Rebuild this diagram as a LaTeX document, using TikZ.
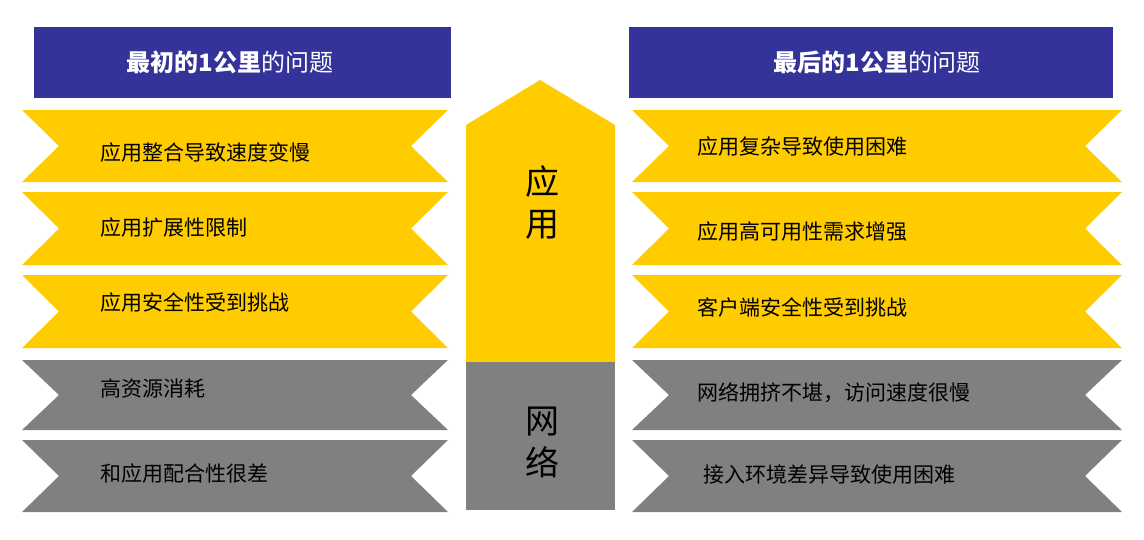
\documentclass[tikz,border=0pt]{standalone}
\usepackage{fontspec}
\setmainfont{Noto Sans CJK SC}
\definecolor{navy}{HTML}{333399}
\definecolor{ylw}{HTML}{FFCC00}
\definecolor{gry}{HTML}{808080}
\tikzset{x=1pt,y=-1pt,
 hdr/.style={fill=navy,draw=none},
 lbl/.style={anchor=west,font=\fontsize{21}{24}\selectfont,inner sep=0pt},
 htxt/.style={text=white,font=\fontsize{24}{28}\selectfont,inner sep=0pt},
 ctxt/.style={font=\fontsize{34}{38}\selectfont,inner sep=0pt,align=center}}
\newcommand{\bannr}[5]{% x1,x2,ytop,ybot,color
 \fill[#5] (#1,#3) -- (#2,#3) -- ({#2-37},{(#3+#4)/2}) -- (#2,#4) -- (#1,#4) -- ({#1+37},{(#3+#4)/2}) -- cycle;}
\begin{document}
\begin{tikzpicture}
\useasboundingbox (0,0) rectangle (1144,539);
\fill[white] (0,0) rectangle (1144,539);
\fill[hdr] (34,27) rectangle (451,98);
\fill[hdr] (629,27) rectangle (1113,98);
\node[htxt] (h1) at (230,62) {\textbf{最初的1公里}的问题};
\node[htxt] (h2) at (877,62) {\textbf{最后的1公里}的问题};
% left banners
\bannr{22}{448}{110}{182}{ylw}
\bannr{22}{448}{192}{265}{ylw}
\bannr{22}{448}{275}{348}{ylw}
\bannr{22}{448}{360}{430}{gry}
\bannr{22}{448}{440}{512}{gry}
\node[lbl] (l1) at (100,152) {应用整合导致速度变慢};
\node[lbl] (l2) at (100,228) {应用扩展性限制};
\node[lbl] (l3) at (100,302) {应用安全性受到挑战};
\node[lbl] (l4) at (100,389) {高资源消耗};
\node[lbl] (l5) at (100,474) {和应用配合性很差};
% right banners
\bannr{632}{1122}{110}{182}{ylw}
\bannr{632}{1122}{192}{265}{ylw}
\bannr{632}{1122}{275}{348}{ylw}
\bannr{632}{1122}{360}{430}{gry}
\bannr{632}{1122}{440}{512}{gry}
\node[lbl] (r1) at (697,147) {应用复杂导致使用困难};
\node[lbl] (r2) at (697,232) {应用高可用性需求增强};
\node[lbl] (r3) at (697,307) {客户端安全性受到挑战};
\node[lbl] (r4) at (697,393) {网络拥挤不堪，访问速度很慢};
\node[lbl] (r5) at (703,475) {接入环境差异导致使用困难};
% center arrow
\fill[ylw] (466,362) -- (466,125) -- (540,80) -- (615,125) -- (615,362) -- cycle;
\fill[gry] (466,362) rectangle (615,510);
\node[ctxt] (c1) at (542,203) {应\\[4pt]用};
\node[ctxt] (c2) at (542,442) {网\\[4pt]络};
\end{tikzpicture}
\end{document}
